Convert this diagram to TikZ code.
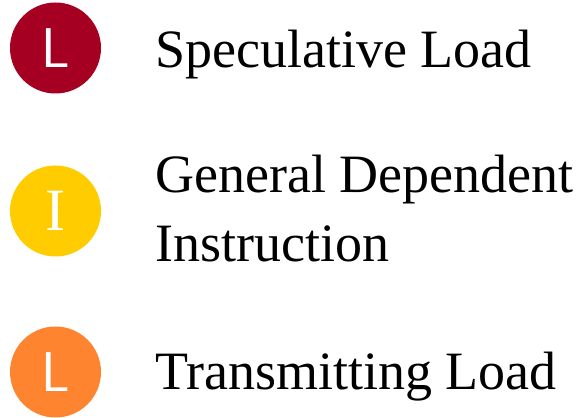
\documentclass[tikz,border=0pt]{standalone}
\usepackage{fontspec}
\setmainfont{Liberation Serif}
\definecolor{specred}{RGB}{165,0,33}
\definecolor{depyellow}{RGB}{255,204,0}
\definecolor{transorange}{RGB}{255,132,48}
\begin{document}
\begin{tikzpicture}[x=1pt,y=1pt,
  badge/.style={circle,minimum size=91pt,inner sep=0pt,text=white},
  sansletter/.style={font=\sffamily\fontsize{56}{56}\selectfont},
  serifletter/.style={font=\fontsize{60}{60}\selectfont},
  label/.style={anchor=base west,inner sep=0pt,font=\fontsize{54}{70}\selectfont}]
  \useasboundingbox (0,0) rectangle (587,418);
  % legend badges
  \node[badge,fill=specred,sansletter] (spec) at (55.5,370) {L};
  \node[badge,fill=depyellow,serifletter] (dep) at (55.5,207) {I};
  \node[badge,fill=transorange,sansletter] (trans) at (55.5,46) {L};
  % legend texts
  \node[label] (specText) at (155,350) {Speculative Load};
  \node[label] (depText1) at (155,225) {General Dependent};
  \node[label] (depText2) at (155,156) {Instruction};
  \node[label] (transText) at (155,28) {Transmitting Load};
\end{tikzpicture}
\end{document}
